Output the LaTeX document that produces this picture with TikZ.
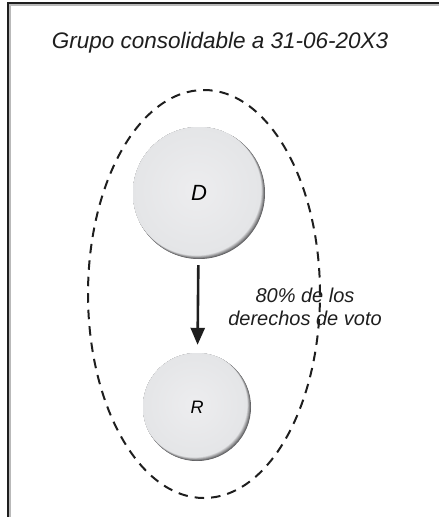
\documentclass[tikz,border=0pt]{standalone}
\usepackage{fontspec}
\setmainfont{Liberation Sans}
\usetikzlibrary{arrows.meta,shapes.geometric}
\definecolor{rim}{HTML}{5E5E60}
\definecolor{face}{HTML}{E4E5E7}
\definecolor{facein}{HTML}{EDEDEF}
\definecolor{ink}{HTML}{1E1E1E}
\tikzset{
  ball/.style={circle, minimum size=#1, inner sep=0pt, fill=rim,
    font=\itshape,
    path picture={
      \foreach \k in {1,...,8}{
        \pgfmathsetmacro{\mixv}{\k*12.5}
        \fill[face!\mixv!rim]
          ([shift={(-\k*0.32pt,\k*0.32pt)}]path picture bounding box.center) circle (#1/2-\k*0.12pt);
      }
      \shade[inner color=facein, outer color=face]
        ([shift={(-2.8pt,2.8pt)}]path picture bounding box.center) circle (#1/2-1.4pt);
    }},
  grpline/.style={ellipse, draw=ink, line width=2pt, dash pattern=on 9.5pt off 7pt,
    minimum width=232pt, minimum height=408pt, inner sep=0pt},
  lbl/.style={font=\itshape, text=ink, align=center}
}
\begin{document}
\begin{tikzpicture}[x=1pt,y=-1pt]
\useasboundingbox (0,0) rectangle (439,517);
% frame
\draw[line width=1.4pt, gray!55] (10,517) -- (10,5) -- (439,5);
\draw[line width=1.8pt, ink] (8,517) -- (8,3) -- (439,3);
% title
\node[lbl, font=\itshape\fontsize{22.5}{27}\selectfont] (title) at (220,43) {Grupo consolidable a 31-06-20X3};
% group ellipse
\node[grpline] (grp) at (204,294) {};
% circles
\node[ball=132pt, font=\itshape\fontsize{22}{26}\selectfont] (D) at (199,193) {D};
\node[ball=108pt, font=\itshape\fontsize{18}{22}\selectfont] (R) at (197,407) {R};
% arrow
\draw[ink, line width=2.6pt, -{Triangle[length=17pt,width=14pt]}, shorten <=6pt, shorten >=8pt] (D) -- (R);
% label
\node[lbl, font=\itshape\fontsize{20}{23}\selectfont] (pct) at (305,307) {80\% de los\\derechos de voto};
\end{tikzpicture}
\end{document}
